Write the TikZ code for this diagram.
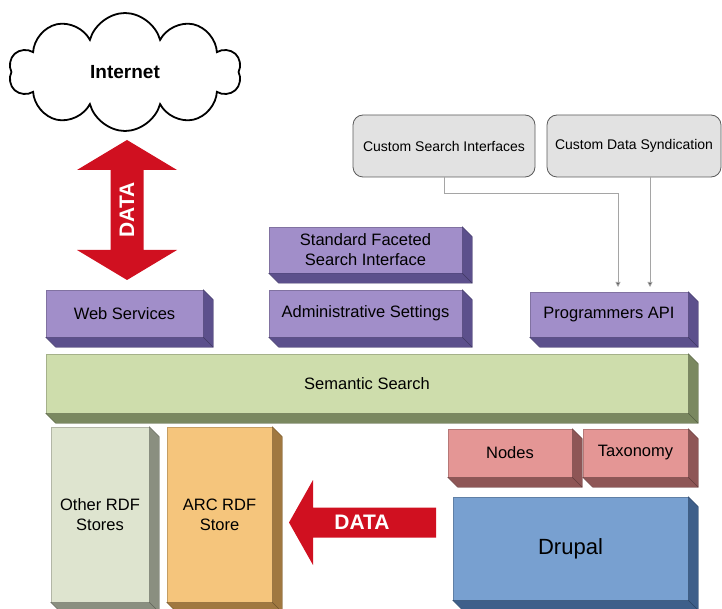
\documentclass[tikz,border=0pt]{standalone}
\usepackage{fontspec}
\setmainfont{Liberation Sans}
\usetikzlibrary{arrows.meta,shapes.symbols,calc}

\definecolor{purplefront}{RGB}{161,142,201}
\definecolor{purpleside}{RGB}{92,80,140}
\definecolor{greenfront}{RGB}{206,221,172}
\definecolor{greenside}{RGB}{122,136,96}
\definecolor{greyfront}{RGB}{222,228,207}
\definecolor{greyside}{RGB}{138,143,128}
\definecolor{orangefront}{RGB}{245,197,124}
\definecolor{orangeside}{RGB}{160,120,64}
\definecolor{pinkfront}{RGB}{228,150,149}
\definecolor{pinkside}{RGB}{142,86,86}
\definecolor{bluefront}{RGB}{120,160,208}
\definecolor{blueside}{RGB}{62,95,138}
\definecolor{datared}{RGB}{208,16,32}
\definecolor{customfill}{RGB}{226,226,226}
\definecolor{customline}{RGB}{90,90,90}
\definecolor{feedline}{RGB}{165,165,165}

\tikzset{
  layer/.style={rectangle, inner sep=0pt, fill=#1front, draw=#1front!80!black,
    line width=0.5pt, align=center, font=\fontsize{16.5}{20}\selectfont},
  custom/.style={rectangle, rounded corners=10pt, inner sep=0pt, fill=customfill,
    draw=customline, line width=0.8pt, font=\fontsize{14}{16}\selectfont},
  datatext/.style={text=white, font=\bfseries\fontsize{21}{24}\selectfont},
  feed/.style={draw=feedline, line width=0.8pt,
    -{Triangle[width=5pt,length=5pt,fill=customline]}}
}

% depth faces of a layer, down and to the right
\newcommand{\sideface}[2]{%
  \filldraw[fill=#2side, draw=#2side!80!black, line width=0.4pt]
    (#1.north east) -- ++(10,10) -- ($(#1.south east)+(10,10)$)
    -- ($(#1.south west)+(10,10)$) -- (#1.south west) -- (#1.south east) -- cycle;
  \draw[#2side!70!black, line width=0.4pt] (#1.south east) -- ++(10,10);}

\begin{document}
\begin{tikzpicture}[x=1pt,y=-1pt]
  \useasboundingbox (0,0) rectangle (722,609);

  \node[cloud, cloud puffs=10, aspect=2, draw, line width=1.8pt, fill=white,
    minimum width=232pt, minimum height=118pt,
    font=\bfseries\fontsize{19}{22}\selectfont] (internet) at (125,72) {Internet};

  % up and down arrow
  \fill[datared] (127,140) -- (177,170) -- (143.5,170) -- (143.5,250) -- (177,250)
    -- (127,280) -- (77,250) -- (110.5,250) -- (110.5,170) -- (77,170) -- cycle;
  \node[datatext, rotate=90] (updown) at (127,210) {DATA};

  \node[custom, minimum width=182pt, minimum height=62pt] (csi) at (444,146) {Custom Search Interfaces};
  \node[custom, minimum width=174pt, minimum height=62pt] (cds) at (634,146) {Custom Data Syndication};

  \node[layer=purple, minimum width=193pt, minimum height=46pt] (sfsi) at (365.5,250) {Standard Faceted\\Search Interface};
  \node[layer=purple, minimum width=157pt, minimum height=47pt] (web) at (124.5,313.5) {Web Services};
  \node[layer=purple, minimum width=193pt, minimum height=47pt] (admin) at (365.5,313.5) {Administrative Settings};
  \node[layer=purple, minimum width=158pt, minimum height=45pt] (api) at (609,314.5) {Programmers API};
  \node[layer=green, minimum width=642pt, minimum height=59pt] (semantic) at (367,383.5) {Semantic Search};
  \node[layer=grey, minimum width=98pt, minimum height=175pt] (other) at (100,514.5) {Other RDF\\Stores};
  \node[layer=orange, minimum width=105pt, minimum height=175pt] (arc) at (219.5,514.5) {ARC RDF\\Store};
  \node[layer=pink, minimum width=124pt, minimum height=48pt] (nodes) at (510,453) {Nodes};
  \node[layer=pink, minimum width=105pt, minimum height=48pt] (taxonomy) at (635.5,453) {Taxonomy};
  \node[layer=blue, minimum width=235pt, minimum height=103pt,
    font=\fontsize{22}{26}\selectfont] (drupal) at (570.5,548.5) {Drupal};

  \sideface{sfsi}{purple}
  \sideface{web}{purple}
  \sideface{admin}{purple}
  \sideface{api}{purple}
  \sideface{semantic}{green}
  \sideface{other}{grey}
  \sideface{arc}{orange}
  \sideface{nodes}{pink}
  \sideface{taxonomy}{pink}
  \sideface{drupal}{blue}

  % left arrow
  \fill[datared] (289,522.5) -- (313,480) -- (313,507.5) -- (436,507.5) -- (436,537.5)
    -- (313,537.5) -- (313,565) -- cycle;
  \node[datatext] (toarc) at (362,522.5) {DATA};

  \coordinate (in1) at (618,287);
  \coordinate (in2) at (650,287);
  \draw[feed] (csi.south) -- ++(0,16) -| (in1);
  \draw[feed] (in2 |- cds.south) -- (in2);
\end{tikzpicture}
\end{document}
